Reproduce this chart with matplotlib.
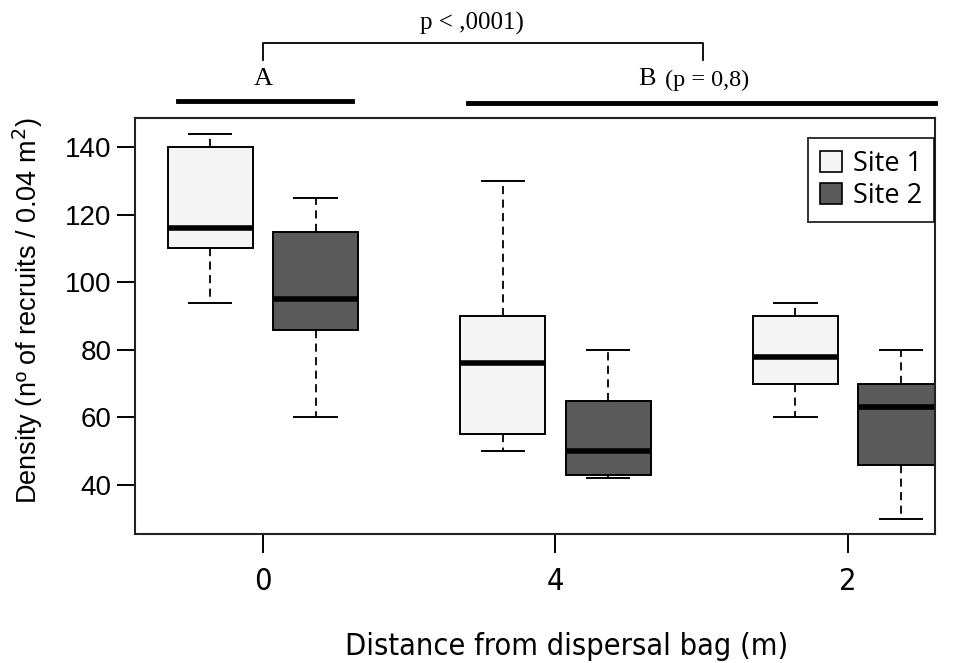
import matplotlib
matplotlib.use("Agg")
import matplotlib.pyplot as plt
from matplotlib.patches import Patch
from matplotlib.lines import Line2D
from matplotlib import font_manager
from matplotlib.font_manager import FontProperties

# data
groups = ["0", "4", "2"]
sites = ["Site 1", "Site 2"]
site_colors = ["#f4f4f4", "#5a5a5a"]
whislo = [[94, 50, 60], [60, 42, 30]]
q1 = [[110, 55, 70], [86, 43, 46]]
med = [[116, 76, 78], [95, 50, 63]]
q3 = [[140, 90, 90], [115, 65, 70]]
whishi = [[144, 130, 94], [125, 80, 80]]


def find_narrow():
    # look for a condensed sans face, else fall back to Liberation Sans
    best = None
    for f in font_manager.fontManager.ttflist:
        if f.style != "normal" or f.weight not in (400, "normal", "regular"):
            continue
        name = f.name.lower()
        fn = f.fname.lower()
        if "serif" in name or "mono" in name:
            continue
        if "liberation sans narrow" in name:
            return f.fname
        if "condensed" in fn or "narrow" in fn or f.stretch in ("condensed", "semi-condensed"):
            best = best or f.fname
    return best


narrow_file = find_narrow()


def narrow_prop(size):
    if narrow_file:
        return FontProperties(fname=narrow_file, size=size)
    return FontProperties(family=['Liberation Sans', 'DejaVu Sans'], size=size * 0.85)


plt.rcParams['font.family'] = ['Liberation Sans', 'DejaVu Sans']

W, H = 967, 663
fig = plt.figure(figsize=(W / 100, H / 100), dpi=100)
ax = fig.add_axes([135 / W, 1 - 534 / H, 800 / W, 416 / H])

offset = 0.18
width = 0.29
for s in range(2):
    stats = []
    for g in range(len(groups)):
        stats.append(dict(whislo=whislo[s][g], q1=q1[s][g], med=med[s][g],
                          q3=q3[s][g], whishi=whishi[s][g], fliers=[]))
    pos = [g + (offset if s else -offset) for g in range(len(groups))]
    ax.bxp(stats, positions=pos, widths=width, patch_artist=True, showfliers=False,
           boxprops=dict(facecolor=site_colors[s], edgecolor="black", linewidth=1.4),
           medianprops=dict(color="black", linewidth=4, solid_capstyle="butt"),
           whiskerprops=dict(color="black", linewidth=1.3, linestyle=(0, (4.5, 3))),
           capprops=dict(color="black", linewidth=1.4), capwidths=width * 0.5)

ax.set_xlim(-0.437, 2.297)
ax.set_ylim(25.5, 148.6)
ax.set_xticks(range(len(groups)))
ax.set_xticklabels(groups, fontproperties=narrow_prop(22))
ax.set_yticks([40, 60, 80, 100, 120, 140])
ax.tick_params(axis="y", labelsize=20, length=13, width=1.4, pad=4)
ax.tick_params(axis="x", length=14, width=1.4, pad=10)
for sp in ax.spines.values():
    sp.set_linewidth(1.5)
    sp.set_color("#222222")

ax.set_ylabel("Density (nº of recruits / 0.04 m$^2$)", fontsize=19.5)
ax.yaxis.set_label_coords(-0.113, 0.536)
ax.set_xlabel("Distance from dispersal bag (m)", fontproperties=narrow_prop(22))
ax.xaxis.set_label_coords(0.54, -0.235)

handles = [Patch(facecolor=c, edgecolor="black", linewidth=1.2) for c in site_colors]
leg = ax.legend(handles, sites, loc="upper right", bbox_to_anchor=(0.999, 0.952),
                borderaxespad=0, frameon=True, fancybox=False, handlelength=0.8,
                handleheight=0.8, handletextpad=0.4, borderpad=0.45, labelspacing=0.15,
                prop=dict(family=['Open Sans', 'DejaVu Sans'], size=19.5))
leg.get_frame().set_edgecolor("black")
leg.get_frame().set_linewidth(1.4)


def fx(px):
    return px / W


def fy(py):
    return 1 - py / H


# group lines and significance bracket above the axes
fig.add_artist(Line2D([fx(178), fx(352)], [fy(101), fy(101)], color="black", lw=3.5))
fig.add_artist(Line2D([fx(468), fx(935)], [fy(103), fy(103)], color="black", lw=3.5))
fig.add_artist(Line2D([fx(263), fx(263), fx(703), fx(703)],
                      [fy(60), fy(43), fy(43), fy(60)], color="black", lw=1.3))
serif = ['Liberation Serif', 'DejaVu Serif']
fig.text(fx(263), fy(79), "A", family=serif, fontsize=19, ha="center", va="center")
fig.text(fx(647), fy(79), "B", family=serif, fontsize=19, ha="center", va="center")
fig.text(fx(665), fy(80), "(p = 0,8)", family=serif, fontsize=17.5, ha="left", va="center")
fig.text(fx(472), fy(23), "p < ,0001)", family=serif, fontsize=18, ha="center", va="center")

fig.savefig("out.png", dpi=100)
